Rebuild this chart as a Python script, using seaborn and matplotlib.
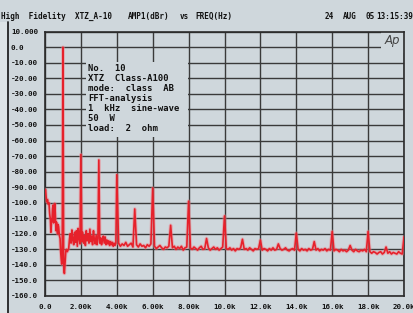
import numpy as np
import pandas as pd
import matplotlib.pyplot as plt
import matplotlib.patches as mpatches
import matplotlib.lines as mlines
import seaborn as sns

BG = '#cfd7dc'
GRID = '#3a3a3a'
RED = '#e6212b'

# noise floor below and around the fundamental (kHz, dBr)
low_khz = [0.00, 0.03, 0.06, 0.10, 0.14, 0.18, 0.22, 0.26, 0.30, 0.33,
           0.36, 0.39, 0.42, 0.45, 0.48, 0.51, 0.54, 0.57, 0.61, 0.64,
           0.67, 0.70, 0.73, 0.76, 0.80, 0.84, 0.87, 0.90, 0.93, 0.96,
           1.04, 1.08, 1.12, 1.16, 1.20, 1.24, 1.28, 1.32, 1.36]
low_db = [-92, -91.5, -96, -99.5, -98, -101, -100, -107, -111, -119,
          -113, -111, -104, -101.5, -113, -107, -100.5, -106, -118, -112.5,
          -116, -120, -114, -115.5, -121, -123, -131, -136, -139.5, -135,
          -141, -145.5, -138, -131, -130, -131.5, -130.5, -129.5, -124]

# dense noise band 1.4k .. 3.95k (harmonic bins left out)
band_khz = [1.40, 1.45, 1.50, 1.55, 1.60, 1.65, 1.70, 1.75, 1.80, 1.85, 1.90, 1.95,
            2.05, 2.10, 2.15, 2.20, 2.25, 2.30, 2.35, 2.40, 2.45, 2.50,
            2.55, 2.60, 2.65, 2.70, 2.75, 2.80, 2.85, 2.90, 2.95,
            3.05, 3.10, 3.15, 3.20, 3.25, 3.30, 3.35, 3.40, 3.45, 3.50,
            3.55, 3.60, 3.65, 3.70, 3.75, 3.80, 3.85, 3.90, 3.95]
band_db = [-120, -126, -117.5, -124, -127, -119, -125.5, -118, -128, -116.5, -123, -126.5,
           -125, -119, -126, -121, -127.5, -118, -124.5, -120, -126, -117,
           -125, -121.5, -127, -118, -124, -126.5, -121, -127, -123,
           -126, -122.5, -127, -124, -121.5, -126, -122, -127, -124, -126.5,
           -124.5, -127.5, -125, -127, -125.5, -128, -126, -127.5, -126]

# noise floor 4.1k .. 19.9k (harmonic bins left out)
floor_khz = [4.1, 4.2, 4.3, 4.4, 4.5, 4.6, 4.7, 4.8, 4.9,
             5.1, 5.2, 5.3, 5.4, 5.5, 5.6, 5.7, 5.8, 5.9,
             6.1, 6.2, 6.3, 6.4, 6.5, 6.6, 6.7, 6.8, 6.9,
             7.1, 7.2, 7.3, 7.4, 7.5, 7.6, 7.7, 7.8, 7.9,
             8.1, 8.2, 8.3, 8.4, 8.5, 8.6, 8.7, 8.8, 8.9,
             9.1, 9.2, 9.3, 9.4, 9.5, 9.6, 9.7, 9.8, 9.9,
             10.1, 10.2, 10.3, 10.4, 10.5, 10.6, 10.7, 10.8, 10.9,
             11.1, 11.2, 11.3, 11.4, 11.5, 11.6, 11.7, 11.8, 11.9,
             12.1, 12.2, 12.3, 12.4, 12.5, 12.6, 12.7, 12.8, 12.9,
             13.1, 13.2, 13.3, 13.4, 13.5, 13.6, 13.7, 13.8, 13.9,
             14.1, 14.2, 14.3, 14.4, 14.5, 14.6, 14.7, 14.8, 14.9,
             15.1, 15.2, 15.3, 15.4, 15.5, 15.6, 15.7, 15.8, 15.9,
             16.1, 16.2, 16.3, 16.4, 16.5, 16.6, 16.7, 16.8, 16.9,
             17.1, 17.2, 17.3, 17.4, 17.5, 17.6, 17.7, 17.8, 17.9,
             18.1, 18.2, 18.3, 18.4, 18.5, 18.6, 18.7, 18.8, 18.9,
             19.1, 19.2, 19.3, 19.4, 19.5, 19.6, 19.7, 19.8, 19.9]
floor_db = [-126, -128, -126.5, -127.5, -125.5, -128, -127, -126, -128.5,
            -127, -128.5, -126.5, -128, -127.5, -129, -127, -128, -126.5,
            -128, -129.5, -128.5, -127.5, -129, -130, -128.5, -129, -128,
            -129, -128, -130, -128.5, -129.5, -128, -130.5, -129, -128.5,
            -129, -130, -128.5, -129.5, -130.5, -129, -128, -130, -129.5,
            -129, -130.5, -129.5, -128.5, -130, -129, -130.5, -129.5, -128.5,
            -129.5, -130, -129, -130.5, -129.5, -131, -129.5, -130, -129,
            -130, -129.5, -130.5, -129, -130, -131, -129.5, -130, -129.5,
            -130.5, -129.5, -130, -131, -129.5, -130.5, -129, -130.5, -130,
            -129.5, -130.5, -130, -129, -130.5, -131, -130, -129.5, -130.5,
            -130, -131, -129.5, -130.5, -130, -131, -129.5, -130.5, -130,
            -130.5, -129.5, -131, -130, -130.5, -129.5, -131, -130, -130.5,
            -131, -130, -130.5, -131.5, -130, -131, -130.5, -131.5, -130.5,
            -130.5, -131.5, -130, -131, -131.5, -130.5, -131, -130, -131.5,
            -131.5, -132.5, -131.5, -132, -133, -132, -131.5, -133, -132,
            -132.5, -131.5, -133, -132, -132.5, -133, -131.5, -132.5, -133]

# fundamental and harmonics
harm_khz = [1, 2, 3, 4, 5, 6, 7, 8, 9, 10,
            11, 12, 13, 14, 15, 16, 17, 18, 19, 20]
harm_db = [0.0, -69, -72.5, -82, -104, -90.5, -114.5, -99, -123, -108.5,
           -123.5, -124, -126.5, -119.5, -125, -118.5, -127.5, -118.5, -128.5, -122]

x_ticks = [0, 2, 4, 6, 8, 10, 12, 14, 16, 18, 20]
x_labels = ['0.0', '2.00k', '4.00k', '6.00k', '8.00k', '10.0k',
            '12.0k', '14.0k', '16.0k', '18.0k', '20.0k']
y_ticks = [10, 0, -10, -20, -30, -40, -50, -60, -70, -80, -90,
           -100, -110, -120, -130, -140, -150, -160]
y_labels = ['10.000', '0.0', '-10.00', '-20.00', '-30.00', '-40.00', '-50.00',
            '-60.00', '-70.00', '-80.00', '-90.00', '-100.0', '-110.0',
            '-120.0', '-130.0', '-140.0', '-150.0', '-160.0']

info_lines = ['No.  10', 'XTZ  Class-A100', 'mode:  class  AB', 'FFT-analysis',
              '1  kHz  sine-wave', '50  W', 'load:  2  ohm']

spectrum = pd.concat([
    pd.DataFrame({'khz': low_khz, 'db': low_db}),
    pd.DataFrame({'khz': band_khz, 'db': band_db}),
    pd.DataFrame({'khz': floor_khz, 'db': floor_db}),
    pd.DataFrame({'khz': harm_khz, 'db': harm_db}),
]).sort_values('khz').reset_index(drop=True)

sns.set_style('white', rc={'axes.facecolor': BG, 'figure.facecolor': BG})
plt.rcParams['font.family'] = ['DejaVu Sans Mono', 'DejaVu Sans']
plt.rcParams['font.weight'] = 'bold'

W, H = 414, 313
fig = plt.figure(figsize=(W / 100, H / 100), dpi=100)
ax = fig.add_axes([45 / W, 1 - 296 / H, 359 / W, 264.3 / H])

# grid
for xv in x_ticks:
    ax.axvline(xv, color=GRID, lw=1.0, zorder=1)
for yv in y_ticks:
    ax.axhline(yv, color=GRID, lw=1.0, zorder=1)

# info box and logo cell hide the grid
ax.add_patch(mpatches.Rectangle((2.28, -57.5), 7.97 - 2.28, 48.2,
                                facecolor=BG, edgecolor='none', zorder=1.5))
ax.add_patch(mpatches.Rectangle((18.72, -4), 1.26, 13.9,
                                facecolor=BG, edgecolor='none', zorder=1.5))

sns.lineplot(data=spectrum, x='khz', y='db', estimator=None, sort=True,
             color='#f08088', lw=2.6, alpha=0.45, ax=ax, zorder=3)
sns.lineplot(data=spectrum, x='khz', y='db', estimator=None, sort=True,
             color=RED, lw=1.2, ax=ax, zorder=4)

ax.text(2.40, -11.0, '\n'.join(info_lines), fontsize=6.4, fontweight='bold',
        va='top', ha='left', linespacing=1.14, color='#111111', zorder=5)
ax.text(19.36, 4.5, 'Ap', fontsize=8.5, style='italic', fontweight='normal',
        family='DejaVu Sans', color='#444444', ha='center', va='center', zorder=5)

ax.set_xlim(0, 20)
ax.set_ylim(-160, 10)
ax.set_xticks(x_ticks)
ax.set_xticklabels(x_labels)
ax.set_yticks(y_ticks)
ax.set_yticklabels(y_labels)
ax.set_xlabel('')
ax.set_ylabel('')
ax.tick_params(axis='both', length=0, labelsize=5.4, labelcolor='#111111')
ax.tick_params(axis='x', pad=6.0)
ax.tick_params(axis='y', pad=24.5)
for lab in ax.get_yticklabels():
    lab.set_horizontalalignment('left')
for sp in ax.spines.values():
    sp.set_color('#2a2a2a')
    sp.set_linewidth(1.2)
    sp.set_visible(True)

# header
hy = 1 - 16.5 / H
hdr = dict(fontsize=5.5, fontweight='bold', va='center', color='#111111')
fig.text(1 / W, hy, 'High  Fidelity  XTZ_A-10', ha='left', **hdr)
fig.text(128 / W, hy, 'AMP1(dBr)', ha='left', **hdr)
fig.text(180 / W, hy, 'vs', ha='left', **hdr)
fig.text(195 / W, hy, 'FREQ(Hz)', ha='left', **hdr)
fig.text(325 / W, hy, '24', ha='left', **hdr)
fig.text(343 / W, hy, 'AUG', ha='left', **hdr)
fig.text(366 / W, hy, '05', ha='left', **hdr)
fig.text(413 / W, hy, '13:15:39', ha='right', **hdr)

# page frame on the left
fig.patches.append(mpatches.Rectangle((0, 0), 8 / W, 1 - 22 / H, transform=fig.transFigure,
                                      facecolor='#dde3e6', edgecolor='none', zorder=0))
fig.lines.append(mlines.Line2D([8 / W, 8 / W], [0, 1 - 22 / H], transform=fig.transFigure,
                               color='#222222', lw=1.3))

fig.savefig('out.png', dpi=100, facecolor=BG)
